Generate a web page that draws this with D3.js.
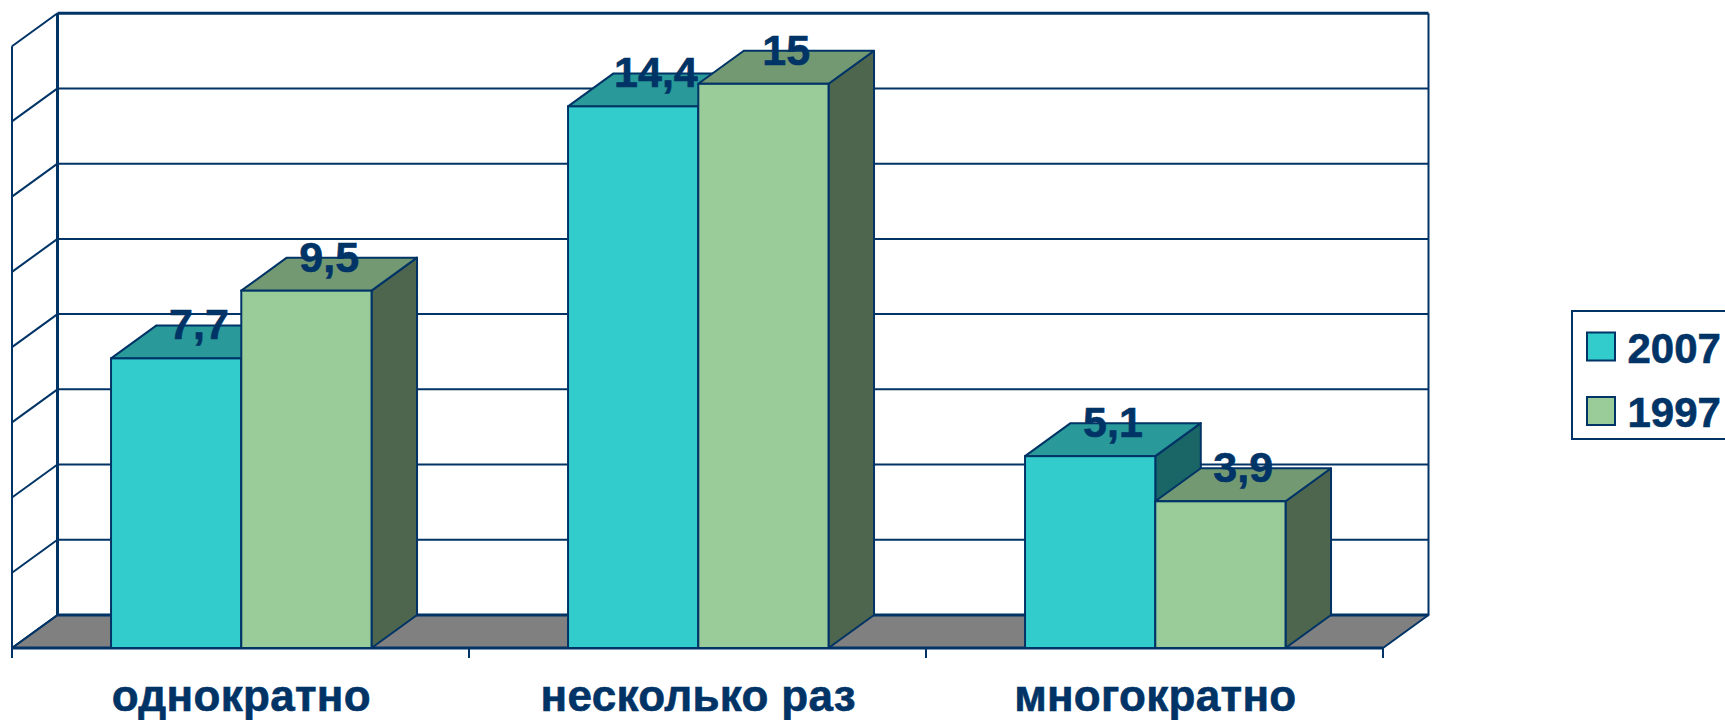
<!DOCTYPE html>
<html>
<head>
<meta charset="utf-8">
<script src="https://cdn.jsdelivr.net/npm/d3@7"></script>
<style>
    body { margin: 0; background: #fff; }
    text { font-family: "Liberation Sans", Arial, sans-serif; font-weight: bold; fill: #003366; stroke: #003366; stroke-width: 0.6px; }
</style>
</head>
<body>
<div id="chart-area"></div>
<script>
var categories = ["однократно", "несколько раз", "многократно"]
var seriesNames = ["2007", "1997"]
var values2007 = [7.7, 14.4, 5.1]
var values1997 = [9.5, 15, 3.9]
var valueLabels2007 = ["7,7", "14,4", "5,1"]
var valueLabels1997 = ["9,5", "15", "3,9"]
var gridValues = [0, 2, 4, 6, 8, 10, 12, 14, 16]

var ink = "#003366"
var faces = {
    "2007": {front: "#33CCCC", top: "#299999", side: "#1A6666"},
    "1997": {front: "#99CC99", top: "#739973", side: "#4D664D"}
}

var svg = d3.select("#chart-area").append("svg")
    .attr("width", 1725)
    .attr("height", 720)
    .style("display", "block")

// plot box, front plane
var left = 12, right = 1383, bottom = 648
var depthX = 45.5, depthY = 33

var x0 = d3.scaleBand()
    .domain(categories)
    .range([left, right])
    .paddingInner(0.43)
    .paddingOuter(0.215)
    .align(0.504)

var x1 = d3.scaleBand()
    .domain(seriesNames)
    .range([0, x0.bandwidth()])

var y = d3.scaleLinear()
    .domain([0, 16])
    .range([bottom, 46.2])

function line(g, x1, y1, x2, y2, w) {
    return g.append("line")
        .attr("x1", x1).attr("y1", y1)
        .attr("x2", x2).attr("y2", y2)
        .attr("stroke", ink)
        .attr("stroke-width", w)
}

function face(g, pts, fill) {
    return g.append("polygon")
        .attr("points", pts.map(p => p.join(",")).join(" "))
        .attr("fill", fill)
        .attr("stroke", ink)
        .attr("stroke-width", 2)
        .attr("stroke-linejoin", "round")
}

var walls = svg.append("g").attr("id", "walls")

// floor first so the grid sits over its edge
face(walls, [[left, bottom], [left + depthX, bottom - depthY], [right + depthX, bottom - depthY], [right, bottom]], "#808080")

gridValues.forEach(function(v) {
    var w = (v === 0 || v === 16) ? 3 : 2
    line(walls, left + depthX, y(v) - depthY, right + depthX, y(v) - depthY, w)
    line(walls, left, y(v), left + depthX, y(v) - depthY, 2)
})
line(walls, left + depthX, y(16) - depthY, left + depthX, y(0) - depthY, 3)
line(walls, right + depthX, y(16) - depthY, right + depthX, y(0) - depthY, 2)
line(walls, left, y(16), left, bottom, 2)

// x axis: labels from the band scale, ticks on the band edges
var xAxis = svg.append("g")
    .attr("id", "x-axis")
    .attr("transform", `translate(0, ${bottom})`)
    .call(d3.axisBottom(x0).tickSize(0).tickPadding(32))
xAxis.select(".domain").remove()
xAxis.selectAll("text")
    .attr("font-size", 44)
    .attr("dy", "0.71em")
    .style("letter-spacing", "0.3px")

line(svg, left, bottom, right, bottom, 3)
var step = x0.step()
categories.concat([""]).forEach(function(c, i) {
    line(svg, left + i * step, bottom, left + i * step, bottom + 10, 2)
})

var bars = svg.append("g").attr("id", "bars")
var labels = svg.append("g").attr("id", "labels")

categories.forEach(function(c, i) {
    var rows = [
        {name: "2007", value: values2007[i], label: valueLabels2007[i]},
        {name: "1997", value: values1997[i], label: valueLabels1997[i]}
    ]
    rows.forEach(function(d) {
        var xa = x0(c) + x1(d.name)
        var xb = xa + x1.bandwidth()
        var yt = y(d.value)
        var f = faces[d.name]

        face(bars, [[xb, yt], [xb + depthX, yt - depthY], [xb + depthX, bottom - depthY], [xb, bottom]], f.side)
        face(bars, [[xa, yt], [xa + depthX, yt - depthY], [xb + depthX, yt - depthY], [xb, yt]], f.top)
        bars.append("rect")
            .attr("x", xa)
            .attr("y", yt)
            .attr("width", xb - xa)
            .attr("height", bottom - yt)
            .attr("fill", f.front)
            .attr("stroke", ink)
            .attr("stroke-width", 2)

        labels.append("text")
            .attr("x", (xa + xb) / 2 + depthX / 2)
            .attr("y", yt - 19)
            .attr("text-anchor", "middle")
            .attr("font-size", 43)
            .text(d.label)
    })
})

// legend runs off the right edge like the original
var legend = svg.append("g").attr("id", "legend")
legend.append("rect")
    .attr("x", 1572).attr("y", 311)
    .attr("width", 170).attr("height", 128)
    .attr("fill", "#fff")
    .attr("stroke", ink)
    .attr("stroke-width", 2)

var legendY = d3.scalePoint()
    .domain(seriesNames)
    .range([346.5, 411])

seriesNames.forEach(function(name) {
    legend.append("rect")
        .attr("x", 1587).attr("y", legendY(name) - 14)
        .attr("width", 28).attr("height", 28)
        .attr("fill", faces[name].front)
        .attr("stroke", ink)
        .attr("stroke-width", 2)
    legend.append("text")
        .attr("x", 1627.5)
        .attr("y", legendY(name) + 16)
        .attr("font-size", 42)
        .text(name)
})
</script>
</body>
</html>
